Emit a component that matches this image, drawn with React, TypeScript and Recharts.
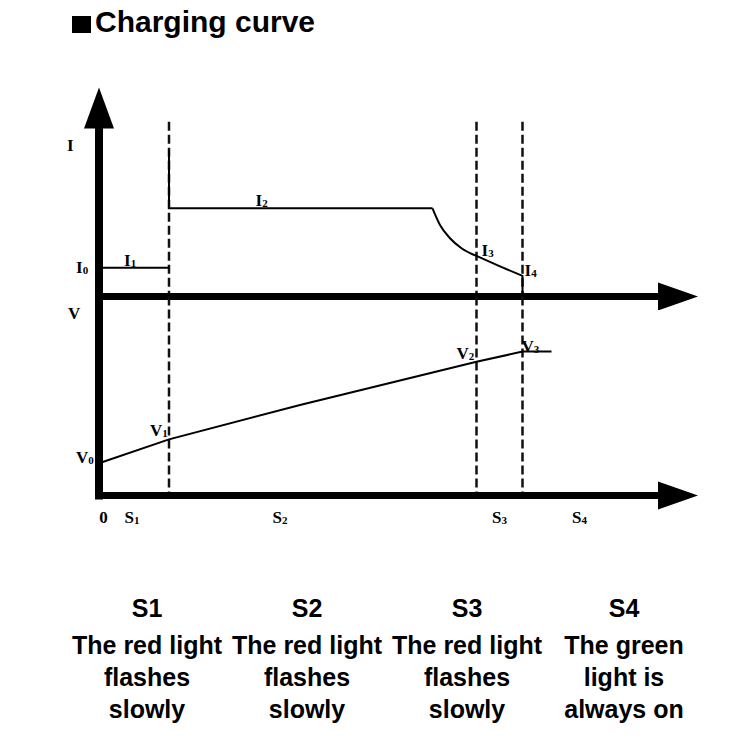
import { ComposedChart, Line, XAxis, YAxis, ReferenceLine, ReferenceDot } from 'recharts'

// time axis runs 0..120 (arbitrary units), stage boundaries
const stageEdges = [14, 75.5, 84.7]

// current trace (I)
const iPrecharge = [
  { t: 0, i: 1.38 },
  { t: 14, i: 1.38 },
]
const iConstant = [
  { t: 14, i: 7.04 },
  { t: 14, i: 4.24 },
  { t: 66.7, i: 4.24 },
]
const iTaper = [
  { t: 66.7, i: 4.24 },
  { t: 68.2, i: 3.44 },
  { t: 70.2, i: 2.8 },
  { t: 72.5, i: 2.32 },
  { t: 75.5, i: 1.95 },
]
const iTopOff = [
  { t: 75.5, i: 1.95 },
  { t: 80.2, i: 1.45 },
  { t: 84.7, i: 0.99 },
  { t: 84.7, i: 0 },
]

// voltage trace (V)
const vTrace = [
  { t: 0, v: 1.62 },
  { t: 14, v: 2.82 },
  { t: 40.2, v: 4.55 },
  { t: 75.5, v: 6.72 },
  { t: 84.7, v: 7.23 },
  { t: 90.5, v: 7.23 },
]

// labels under the time axis
const timeTicks = [0.9, 6.6, 36.2, 80.1, 96.1]
const timeTickText = [['0', ''], ['S', '1'], ['S', '2'], ['S', '3'], ['S', '4']]

const stageNames = ['S1', 'S2', 'S3', 'S4']
const stageText = [
  ['The red light', 'flashes', 'slowly'],
  ['The red light', 'flashes', 'slowly'],
  ['The red light', 'flashes', 'slowly'],
  ['The green', 'light is', 'always on'],
]
const stageCenters = [147, 307, 467, 624]

const SERIF = "'Liberation Serif', 'Times New Roman', serif"
const SANS = "'Liberation Sans', Arial, sans-serif"

const tag = (main: string, sub: string, dx: number, dy: number, anchor = 'start') => (p: any) => (
  <text
    x={p.cx + dx}
    y={p.cy + dy}
    textAnchor={anchor}
    fontFamily={SERIF}
    fontWeight="bold"
    fontSize={17}
    fill="#000"
  >
    {main}
    {sub ? (
      <tspan fontSize={11} dy={1}>
        {sub}
      </tspan>
    ) : null}
  </text>
)

const arrowRight = (p: any) => (
  <polygon
    points={`${p.cx - 1},${p.cy} ${p.cx - 41},${p.cy - 14} ${p.cx - 41},${p.cy + 14}`}
    fill="#000"
  />
)
const arrowUp = (p: any) => (
  <polygon
    points={`${p.cx},${p.cy - 1} ${p.cx - 15},${p.cy + 40} ${p.cx + 15},${p.cy + 40}`}
    fill="#000"
  />
)

const axisStyle = { stroke: '#000', strokeWidth: 7, strokeLinecap: 'square' as const }
const dashStyle = { stroke: '#111', strokeWidth: 2.5, strokeDasharray: '9 4' }

function CurrentPanel() {
  return (
    <ComposedChart
      width={750}
      height={310}
      margin={{ top: 88.5, right: 51, bottom: 13.5, left: 99 }}
    >
      <XAxis type="number" dataKey="t" domain={[0, 120]} hide />
      <YAxis type="number" domain={[0, 10]} hide />
      {stageEdges.map((x) => (
        <ReferenceLine key={x} segment={[{ x, y: 8.4 }, { x, y: 0 }]} {...dashStyle} />
      ))}
      <ReferenceLine segment={[{ x: 0, y: 0 }, { x: 113, y: 0 }]} {...axisStyle} />
      <ReferenceLine segment={[{ x: 0, y: 9 }, { x: 0, y: 0 }]} {...axisStyle} strokeWidth={8} strokeLinecap="butt" />
      <ReferenceDot x={120} y={0} shape={arrowRight} />
      <ReferenceDot x={0} y={10} shape={arrowUp} />
      <Line data={iPrecharge} dataKey="i" type="linear" stroke="#000" strokeWidth={2} dot={false} isAnimationActive={false} />
      <Line data={iConstant} dataKey="i" type="linear" stroke="#000" strokeWidth={2} dot={false} isAnimationActive={false} />
      <Line data={iTaper} dataKey="i" type="monotone" stroke="#000" strokeWidth={2} dot={false} isAnimationActive={false} />
      <Line data={iTopOff} dataKey="i" type="linear" stroke="#000" strokeWidth={2} dot={false} isAnimationActive={false} />
      <ReferenceDot x={0} y={7} shape={tag('I', '', -32, 0)} />
      <ReferenceDot x={0} y={iPrecharge[0].i} shape={tag('I', '0', -23, 5)} />
      <ReferenceDot x={5} y={iPrecharge[0].i} shape={tag('I', '1', 0, -2)} />
      <ReferenceDot x={31.3} y={iConstant[1].i} shape={tag('I', '2', 0, -2)} />
      <ReferenceDot x={iTopOff[0].t} y={iTopOff[0].i} shape={tag('I', '3', 5, 0)} />
      <ReferenceDot x={iTopOff[2].t} y={iTopOff[2].i} shape={tag('I', '4', 2, 0)} />
    </ComposedChart>
  )
}

function VoltagePanel() {
  return (
    <ComposedChart
      width={750}
      height={540}
      margin={{ top: 296.5, right: 51, bottom: 44.5, left: 99 }}
    >
      <XAxis type="number" dataKey="t" domain={[0, 120]} hide />
      <YAxis type="number" domain={[0, 10]} hide />
      {stageEdges.map((x) => (
        <ReferenceLine key={x} segment={[{ x, y: 10 }, { x, y: 0 }]} {...dashStyle} />
      ))}
      <ReferenceLine segment={[{ x: 0, y: 0 }, { x: 113, y: 0 }]} {...axisStyle} />
      <ReferenceLine segment={[{ x: 0, y: 10 }, { x: 0, y: 0 }]} {...axisStyle} strokeWidth={8} />
      <ReferenceDot x={120} y={0} shape={arrowRight} />
      <Line data={vTrace} dataKey="v" type="linear" stroke="#000" strokeWidth={2} dot={false} isAnimationActive={false} />
      <ReferenceDot x={0} y={8.87} shape={tag('V', '', -31, 0)} />
      <ReferenceDot x={vTrace[0].t} y={vTrace[0].v} shape={tag('V', '0', -23, 0)} />
      <ReferenceDot x={vTrace[1].t} y={vTrace[1].v} shape={tag('V', '1', -19, -3)} />
      <ReferenceDot x={vTrace[3].t} y={vTrace[3].v} shape={tag('V', '2', -20, -3)} />
      <ReferenceDot x={vTrace[4].t} y={vTrace[4].v} shape={tag('V', '3', -1, 0)} />
      {timeTicks.map((t, k) => (
        <ReferenceDot
          key={t}
          x={t}
          y={0}
          shape={tag(timeTickText[k][0], timeTickText[k][1], 0, 27, 'middle')}
        />
      ))}
    </ComposedChart>
  )
}

export default function App() {
  return (
    <div style={{ position: 'absolute', left: 0, top: 0, width: 750, height: 750, background: '#fff', overflow: 'hidden' }}>
      <div style={{ position: 'absolute', left: 72, top: 16, width: 19, height: 17, background: '#000' }} />
      <div
        style={{
          position: 'absolute',
          left: 95,
          top: 6,
          fontFamily: SANS,
          fontWeight: 'bold',
          fontSize: 30,
          lineHeight: '32px',
          color: '#000',
          whiteSpace: 'nowrap',
        }}
      >
        Charging curve
      </div>
      <div style={{ position: 'absolute', left: 0, top: 0 }}>
        <CurrentPanel />
      </div>
      <div style={{ position: 'absolute', left: 0, top: 0 }}>
        <VoltagePanel />
      </div>
      {stageNames.map((name, k) => (
        <div
          key={name}
          style={{
            position: 'absolute',
            left: stageCenters[k] - 90,
            top: 592,
            width: 180,
            textAlign: 'center',
            fontFamily: SANS,
            fontWeight: 'bold',
            fontSize: 25,
            lineHeight: '32px',
            color: '#000',
          }}
        >
          <div>{name}</div>
          <div style={{ marginTop: 5 }}>
            {stageText[k].map((line) => (
              <div key={line}>{line}</div>
            ))}
          </div>
        </div>
      ))}
    </div>
  )
}
